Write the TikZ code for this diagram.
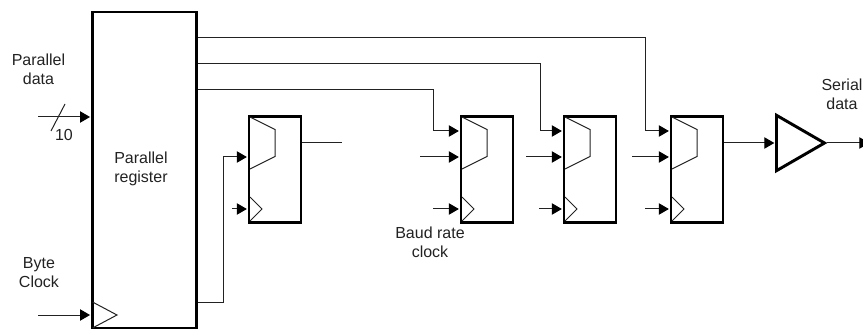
\documentclass[tikz,border=0pt]{standalone}
\usepackage{fontspec}
\setmainfont{Liberation Sans}
\usetikzlibrary{arrows.meta,shapes.geometric}
\definecolor{inkgray}{HTML}{222222}
\tikzset{
  flopbox/.style={draw=black,line width=2.2pt,inner sep=0pt,minimum width=39pt,minimum height=79pt},
  wire/.style={line width=0.75pt,draw=inkgray},
  sig/.style={wire,-{Triangle[length=7.5pt,width=8.5pt,color=black]},shorten >=0.5pt},
  lbl/.style={align=center,font=\fontsize{12}{14.2}\selectfont,text=inkgray,inner sep=0pt}
}
\begin{document}
\begin{tikzpicture}[x=0.75pt,y=-0.75pt]
\useasboundingbox (0,0) rectangle (863,331);
  % Draw register and flip flops
  \node[flopbox,minimum width=78.5pt,minimum height=237pt] (preg) at (144.5,170) {};
  \foreach \name/\x in {bit0/248,bit1/460,bit2/563,bit3/670}
    \node[flopbox] (\name) at (\x+27,169.5) {};
  % Draw mux and clock marks
  \foreach \x in {248,460,563,670} {
    \draw[wire] (\x+2,117) -- (\x+27,129.5) -- (\x+27,156.5) -- (\x+2,169);
    \draw[wire] (\x+2,197) -- (\x+14,209) -- (\x+2,221);
  }
  \draw[wire] (92.5,302) -- (117,315) -- (92.5,328);
  % Draw output buffer
  \node[draw=black,line width=2.2pt,isosceles triangle,isosceles triangle apex angle=60,
        inner sep=0pt,minimum height=36pt,minimum width=41pt,anchor=west] (buf) at (775,143) {};
  % Draw input ends
  \coordinate (pdata) at (38,117);
  \coordinate (bclk) at (38,315);
  \coordinate (sout) at (870,143);
  \coordinate (slashA) at (51,131);
  \coordinate (slashB) at (65,104);
  \draw[sig] (pdata) -- (preg.west |- pdata);
  \draw[sig] (bclk) -- (preg.west |- bclk);
  \draw[wire] (slashA) -- (slashB);
  % Draw lines from register to flip flops
  \foreach \y/\x/\name in {38/645/bit3,64/540/bit2,90/433/bit1}
    \draw[sig] (preg.east |- 0,\y) -- (\x,\y) -- (\x,131) -- (\name.west |- 0,131);
  \draw[sig] (preg.east |- 0,302) -- (223,302) -- (223,157) -- (bit0.west |- 0,157);
  % Draw free inputs
  \foreach \x/\name in {420/bit1,526/bit2,632/bit3} {
    \coordinate (\name d) at (\x,157);
    \draw[sig] (\name d) -- (\name.west |- \name d);
  }
  \foreach \x/\name in {232/bit0,433/bit1,539/bit2,645/bit3} {
    \coordinate (\name c) at (\x,209);
    \draw[sig] (\name c) -- (\name.west |- \name c);
  }
  % Draw outputs
  \coordinate (bit0out) at (342,143);
  \draw[wire] (bit0.east |- bit0out) -- (bit0out);
  \draw[sig] (bit3.east |- buf.west) -- (buf.west);
  \draw[sig] (buf.east) -- (sout);
  % Draw labels
  \node[lbl] (pdatatxt) at (38.5,69) {Parallel\\data};
  \node[lbl] (widthtxt) at (64,134.5) {10};
  \node[lbl] (bclktxt) at (39,273) {Byte\\Clock};
  \node[lbl] (pregtxt) at (141,169) {Parallel\\register};
  \node[lbl] (baudtxt) at (430,242) {Baud rate\\clock};
  \node[lbl] (serialtxt) at (842,94) {Serial\\data};
\end{tikzpicture}
\end{document}
